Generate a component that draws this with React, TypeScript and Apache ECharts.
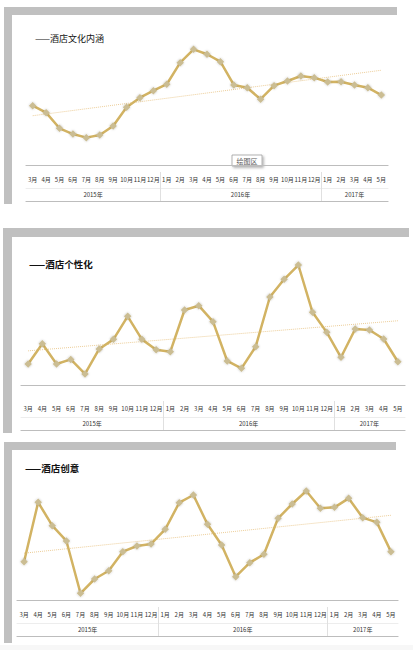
import React, { useEffect, useRef } from "react";
import * as echarts from "echarts";

const monthLabels = [
  "3月", "4月", "5月", "6月", "7月", "8月", "9月", "10月", "11月", "12月",
  "1月", "2月", "3月", "4月", "5月", "6月", "7月", "8月", "9月", "10月", "11月", "12月",
  "1月", "2月", "3月", "4月", "5月",
];

const yearGroups = [
  { label: "2015年", months: 10 },
  { label: "2016年", months: 12 },
  { label: "2017年", months: 5 },
];

const cultureValues = [
  49.4, 43.6, 30.6, 25.8, 22.8, 25.0, 32.5, 48.1, 56.1, 61.9,
  67.3, 85.3, 96.4, 92.3, 86.1, 66.7, 64.4, 54.8, 66.1, 70.0, 74.2, 72.8,
  69.2, 69.4, 66.7, 64.4, 58.3,
];

const personalityValues = [
  16.2, 31.8, 16.2, 19.7, 8.5, 27.7, 35.1, 52.8, 35.1, 27.2,
  25.6, 57.7, 61.0, 48.7, 18.5, 12.8, 29.5, 67.7, 81.3, 92.3, 55.9, 40.5,
  21.3, 43.1, 42.3, 35.4, 17.9,
];

const creativityValues = [
  31.9, 81.4, 61.9, 49.2, 5.6, 17.5, 24.4, 40.3, 45.0, 46.7,
  58.9, 81.1, 87.5, 63.1, 45.8, 19.4, 31.1, 38.1, 68.1, 80.0, 90.8, 76.4,
  77.2, 84.7, 68.6, 64.7, 40.3,
];

const titles = ["——酒店文化内涵", "——酒店个性化", "——酒店创意"];

const FONT = '"Noto Sans CJK SC", "Noto Sans", sans-serif';
const W = 413;
const H = 650;

// linear trend (least squares) of a series, evaluated at first and last index
function linearTrend(values: number[]): [number, number] {
  const n = values.length;
  const mx = (n - 1) / 2;
  const my = values.reduce((a, b) => a + b, 0) / n;
  let sxy = 0;
  let sxx = 0;
  values.forEach((v, i) => {
    sxy += (i - mx) * (v - my);
    sxx += (i - mx) * (i - mx);
  });
  const slope = sxy / sxx;
  const intercept = my - slope * mx;
  return [intercept, intercept + slope * (n - 1)];
}

const panels = [
  {
    title: titles[0], values: cultureValues, bold: false,
    left: 26, right: 25, top: 45, height: 120, axisOffset: 7,
    titleX: 35, titleY: 34,
    frame: { x: 4, y: 7, w: 393, h: 197, t: 8 },
  },
  {
    title: titles[1], values: personalityValues, bold: true,
    left: 21, right: 8, top: 255, height: 130, axisOffset: 16,
    titleX: 29, titleY: 259,
    frame: { x: 3, y: 228, w: 406, h: 205, t: 9 },
  },
  {
    title: titles[2], values: creativityValues, bold: true,
    left: 17, right: 15, top: 480, height: 120, axisOffset: 7,
    titleX: 25, titleY: 463,
    frame: { x: 4, y: 442, w: 392, h: 201, t: 8 },
  },
];

// half-month slots: year labels at group centres, dividers at group boundaries
const yearSlots: string[] = new Array(monthLabels.length * 2 + 1).fill("");
const dividerSlots: number[] = [];
{
  let start = 0;
  yearGroups.forEach((g, gi) => {
    if (gi > 0) dividerSlots.push(start * 2);
    yearSlots[start * 2 + g.months] = g.label;
    start += g.months;
  });
}

export default function App() {
  const ref = useRef<HTMLDivElement>(null);

  useEffect(() => {
    if (!ref.current) return;
    const chart = echarts.init(ref.current, undefined, { renderer: "svg" });

    const grid: any[] = [];
    const xAxis: any[] = [];
    const yAxis: any[] = [];
    const series: any[] = [];
    const title: any[] = [];
    const graphic: any[] = [];

    const dividerTick = (length: number) => ({
      show: true,
      inside: true,
      interval: (idx: number) => dividerSlots.includes(idx),
      length,
      lineStyle: { color: "#e0e0e0", width: 1 },
    });

    panels.forEach((p, i) => {
      grid.push({
        left: p.left,
        right: p.right,
        top: p.top,
        height: p.height,
        containLabel: false,
      });
      // month row
      xAxis.push({
        gridIndex: i,
        type: "category",
        data: monthLabels,
        position: "bottom",
        offset: p.axisOffset,
        boundaryGap: true,
        axisLine: { lineStyle: { color: "#bdbdbd", width: 1.2 } },
        axisTick: { show: false },
        axisLabel: {
          interval: 0,
          fontSize: 6,
          margin: 4,
          color: "#333333",
          fontFamily: FONT,
        },
        splitLine: { show: false },
      });
      // year row
      xAxis.push({
        gridIndex: i,
        type: "category",
        data: yearSlots,
        position: "bottom",
        offset: p.axisOffset + 16,
        boundaryGap: false,
        axisLine: { lineStyle: { color: "#e8e8e8", width: 0.8 } },
        axisTick: dividerTick(16),
        axisLabel: {
          interval: 0,
          fontSize: 6,
          margin: 3,
          color: "#333333",
          fontFamily: FONT,
        },
        splitLine: { show: false },
      });
      // bottom rule
      xAxis.push({
        gridIndex: i,
        type: "category",
        data: yearSlots,
        position: "bottom",
        offset: p.axisOffset + 29,
        boundaryGap: false,
        axisLine: { lineStyle: { color: "#bdbdbd", width: 1.2 } },
        axisTick: dividerTick(13),
        axisLabel: { show: false },
        splitLine: { show: false },
      });
      yAxis.push({ gridIndex: i, type: "value", min: 0, max: 100, show: false });

      const [a, b] = linearTrend(p.values);
      series.push({
        type: "line",
        xAxisIndex: i * 3,
        yAxisIndex: i,
        data: [[0, a], [p.values.length - 1, b]],
        symbol: "none",
        silent: true,
        z: 1,
        lineStyle: { color: "#eccd98", width: 1, type: "dotted" },
      });
      series.push({
        type: "line",
        xAxisIndex: i * 3,
        yAxisIndex: i,
        data: p.values,
        symbol: "diamond",
        symbolSize: 7.5,
        z: 3,
        lineStyle: { color: "#d2b363", width: 2.5 },
        itemStyle: {
          color: "#cbbd93",
          shadowBlur: 2,
          shadowColor: "rgba(0,0,0,0.25)",
        },
      });

      title.push({
        text: p.title,
        left: p.titleX,
        top: p.titleY,
        padding: 0,
        textStyle: {
          fontSize: p.bold ? 9.5 : 9,
          fontWeight: p.bold ? "bold" : "normal",
          color: "#111",
          fontFamily: FONT,
        },
      });

      const f = p.frame;
      graphic.push({
        type: "rect",
        shape: { x: f.x, y: f.y, width: f.w, height: f.t },
        style: { fill: "#c0c0c0" },
        silent: true,
      });
      graphic.push({
        type: "rect",
        shape: { x: f.x, y: f.y, width: f.t, height: f.h },
        style: { fill: "#c0c0c0" },
        silent: true,
      });
    });

    graphic.push({
      type: "rect",
      shape: { x: 0, y: 645, width: W, height: 5 },
      style: { fill: "#f7f7f7" },
      silent: true,
    });

    // "绘图区" hover box
    graphic.push({
      type: "group",
      x: 232,
      y: 155,
      children: [
        {
          type: "rect",
          shape: { x: 0, y: 0, width: 30, height: 11 },
          style: {
            fill: "#ffffff",
            stroke: "#a0a0a0",
            lineWidth: 0.8,
            shadowBlur: 2,
            shadowOffsetX: 1.5,
            shadowOffsetY: 1.5,
            shadowColor: "rgba(0,0,0,0.3)",
          },
        },
        {
          type: "text",
          x: 15,
          y: 5.5,
          style: {
            text: "绘图区",
            fontSize: 7,
            fontFamily: FONT,
            fill: "#5a5a5a",
            align: "center",
            verticalAlign: "middle",
          },
        },
      ],
    });

    chart.setOption({
      animation: false,
      backgroundColor: "#ffffff",
      title,
      grid,
      xAxis,
      yAxis,
      series,
      graphic,
    });

    return () => chart.dispose();
  }, []);

  return (
    <div
      ref={ref}
      style={{ position: "fixed", left: 0, top: 0, width: W, height: H }}
    />
  );
}
